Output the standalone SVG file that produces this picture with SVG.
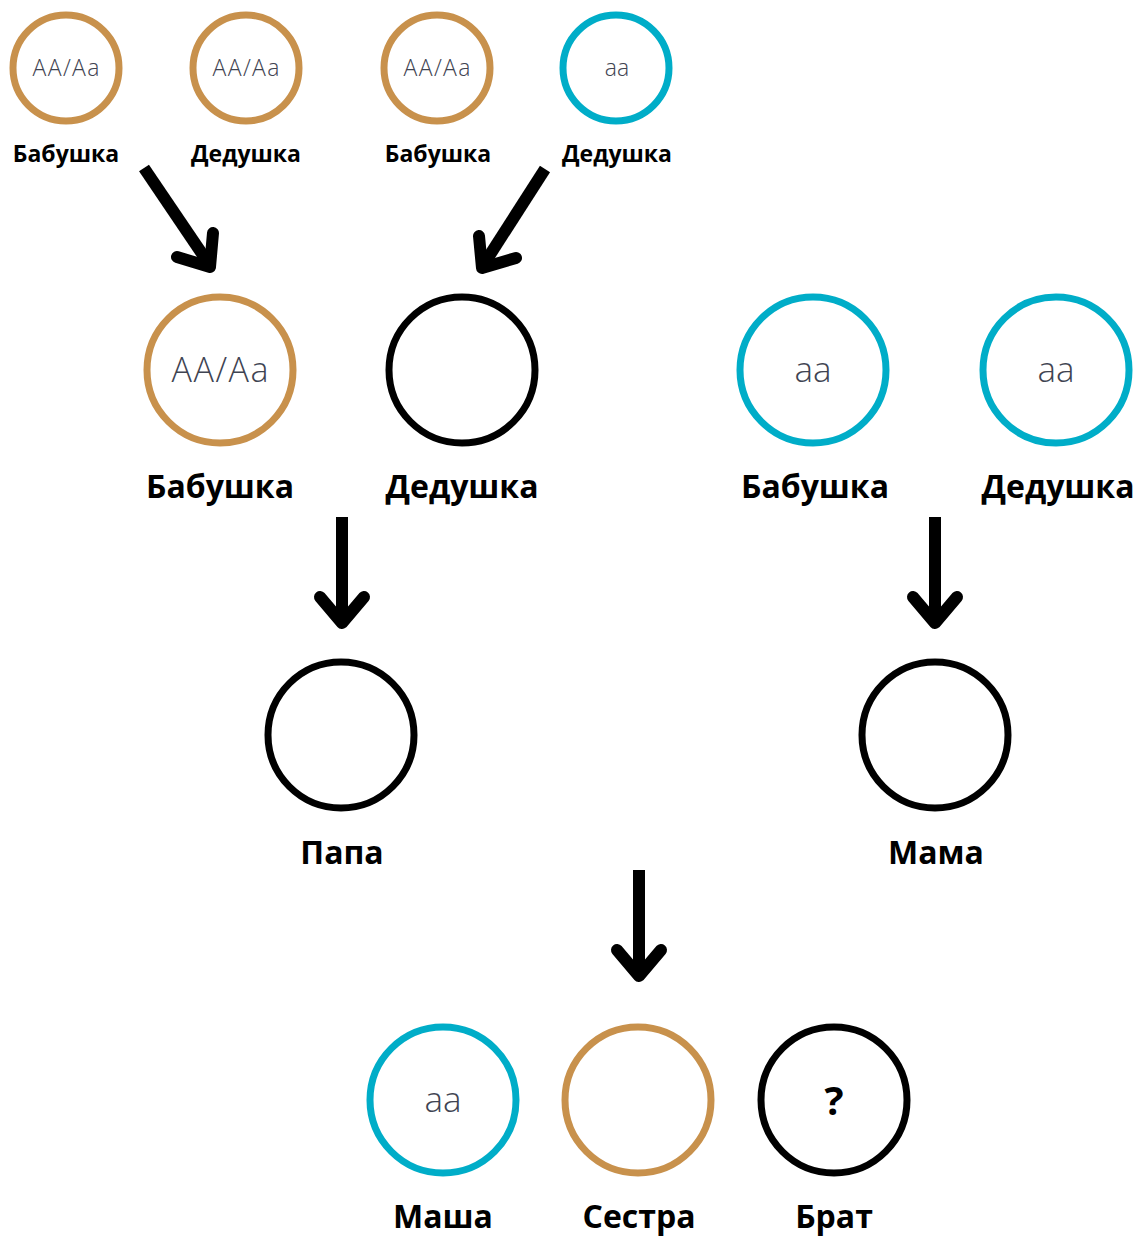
<svg xmlns="http://www.w3.org/2000/svg" width="1141" height="1237" viewBox="0 0 1141 1237">
<style>
.o{fill:none;stroke:#C8914C;stroke-width:7}
.c{fill:none;stroke:#00ADC8;stroke-width:7}
.k{fill:none;stroke:#000;stroke-width:7}
.g{font-family:"Open Sans","Noto Sans",sans-serif;font-weight:300;fill:#3f4452;text-anchor:middle}
.l{font-family:"Open Sans","Noto Sans",sans-serif;font-weight:700;fill:#000;text-anchor:middle}
.s{font-size:23px}
.b{font-size:32px}
.shaft{fill:none;stroke:#000;stroke-width:12;stroke-linecap:butt}
.head{fill:none;stroke:#000;stroke-width:12;stroke-linecap:round;stroke-linejoin:round}
</style>
<rect width="1141" height="1237" fill="#fff"/>
<g id="n-gm1"><circle class="o" cx="66" cy="68" r="53"/><text class="g" x="66" y="76" font-size="23" textLength="67" lengthAdjust="spacing">AA/Aa</text><text class="l s" x="66" y="162">Бабушка</text></g>
<g id="n-gf1"><circle class="o" cx="246" cy="68" r="53"/><text class="g" x="246" y="76" font-size="23" textLength="67" lengthAdjust="spacing">AA/Aa</text><text class="l s" x="246" y="162">Дедушка</text></g>
<g id="n-gm2"><circle class="o" cx="437" cy="68" r="53"/><text class="g" x="437" y="76" font-size="23" textLength="67" lengthAdjust="spacing">AA/Aa</text><text class="l s" x="438" y="162">Бабушка</text></g>
<g id="n-gf2"><circle class="c" cx="616" cy="68" r="53"/><text class="g" x="617" y="76" font-size="23">aa</text><text class="l s" x="617" y="162">Дедушка</text></g>
<g id="n-pgm"><circle class="o" cx="220" cy="370" r="73"/><text class="g" x="220" y="382" font-size="34" textLength="97" lengthAdjust="spacing">AA/Aa</text><text class="l b" x="220" y="498">Бабушка</text></g>
<g id="n-pgf"><circle class="k" cx="462" cy="370" r="73"/><text class="l b" x="462" y="498">Дедушка</text></g>
<g id="n-mgm"><circle class="c" cx="813" cy="370" r="73"/><text class="g" x="813" y="382" font-size="35">aa</text><text class="l b" x="815" y="498">Бабушка</text></g>
<g id="n-mgf"><circle class="c" cx="1056" cy="370" r="73"/><text class="g" x="1056" y="382" font-size="35">aa</text><text class="l b" x="1058" y="498">Дедушка</text></g>
<g id="n-papa"><circle class="k" cx="341" cy="735" r="73"/><text class="l b" x="342" y="864">Папа</text></g>
<g id="n-mama"><circle class="k" cx="935" cy="735" r="73"/><text class="l b" x="936" y="864">Мама</text></g>
<g id="n-masha"><circle class="c" cx="443" cy="1100" r="73"/><text class="g" x="443" y="1112" font-size="35">aa</text><text class="l b" x="443" y="1228">Маша</text></g>
<g id="n-sestra"><circle class="o" cx="638" cy="1100" r="73"/><text class="l b" x="639" y="1228">Сестра</text></g>
<g id="n-brat"><circle class="k" cx="834" cy="1100" r="73"/><text class="l" x="834" y="1115" font-size="40">?</text><text class="l b" x="834" y="1228">Брат</text></g>
<g id="connectors">
<line class="shaft" x1="144" y1="168" x2="209" y2="264"/><polyline class="head" points="177,257 210,267 213,233"/>
<line class="shaft" x1="545" y1="169" x2="484" y2="264"/><polyline class="head" points="479,236 482,268 516,258"/>
<line class="shaft" x1="342" y1="517" x2="342" y2="622"/><polyline class="head" points="320,597 342,623 364,597"/>
<line class="shaft" x1="935" y1="517" x2="935" y2="622"/><polyline class="head" points="913,597 935,623 957,597"/>
<line class="shaft" x1="639" y1="870" x2="639" y2="975"/><polyline class="head" points="617,950 639,976 661,950"/>
</g>
</svg>
